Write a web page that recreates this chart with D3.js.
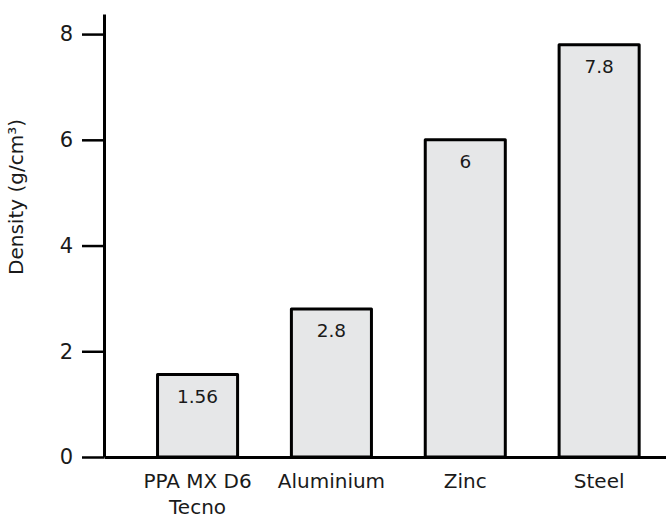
<!DOCTYPE html>
<html>
<head>
<meta charset="utf-8">
<script src="https://cdn.jsdelivr.net/npm/d3@7/dist/d3.min.js"></script>
<style>
  html, body { margin: 0; padding: 0; background: #fff; }
  svg { display: block; }
  text { font-family: "DejaVu Sans", sans-serif; fill: #1a1a1a; }
</style>
</head>
<body>
<svg id="chart" width="666" height="519"></svg>
<script>
const categories = [["PPA MX D6", "Tecno"], ["Aluminium"], ["Zinc"], ["Steel"]];
const values = [1.56, 2.8, 6, 7.8];
const valueLabels = ["1.56", "2.8", "6", "7.8"];
const yTicks = [0, 2, 4, 6, 8];
const yTitle = "Density (g/cm³)";

const FONT = '"DejaVu Sans", sans-serif';
const svg = d3.select("#chart");
const keys = categories.map(c => c.join(" "));

const x = d3.scaleBand().domain(keys).range([104, 692.7]).paddingInner(0.402).paddingOuter(0.4);
const y = d3.scaleLinear().domain([0, 8.38]).range([457, 14]);

// bars
svg.append("g").selectAll("rect").data(values).join("rect")
  .attr("x", (d, i) => x(keys[i]))
  .attr("y", d => y(d))
  .attr("width", x.bandwidth())
  .attr("height", d => y(0) - y(d))
  .attr("fill", "#e6e7e8")
  .attr("stroke", "#000")
  .attr("stroke-width", 3)
  .attr("stroke-linejoin", "round");

// value labels
svg.append("g").selectAll("text").data(values).join("text")
  .attr("x", (d, i) => x(keys[i]) + x.bandwidth() / 2)
  .attr("y", d => y(d) + 28)
  .attr("text-anchor", "middle")
  .style("font-size", "18.5px")
  .text((d, i) => valueLabels[i]);

// y axis
const yAxis = d3.axisLeft(y).tickValues(yTicks).tickSize(22).tickPadding(9).tickSizeOuter(0)
  .tickFormat(d3.format("d"));
const gy = svg.append("g").attr("transform", "translate(104,0)").call(yAxis);
gy.select(".domain").attr("stroke", "#000").attr("stroke-width", 3);
gy.selectAll(".tick line").attr("stroke", "#000").attr("stroke-width", 2.5);
gy.selectAll(".tick text").style("font-size", "21px").style("font-family", FONT).attr("fill", "#1a1a1a");

// x axis
const xAxis = d3.axisBottom(x).tickSize(0).tickSizeOuter(0).tickFormat(() => "");
const gx = svg.append("g").attr("transform", `translate(0,${y(0)})`).call(xAxis);
gx.select(".domain").attr("stroke", "#000").attr("stroke-width", 3);
gx.selectAll(".tick").each(function (k, i) {
  const t = d3.select(this).select("text").text(null)
    .attr("y", 31).attr("dy", null)
    .style("font-size", "20px").style("font-family", FONT).attr("fill", "#1a1a1a");
  categories[i].forEach((line, j) => {
    t.append("tspan").attr("x", 0).attr("dy", j === 0 ? 0 : 26).text(line);
  });
});

// y title
svg.append("text")
  .attr("transform", `translate(23,197) rotate(-90)`)
  .attr("text-anchor", "middle")
  .style("font-size", "20px")
  .text(yTitle);
</script>
</body>
</html>
